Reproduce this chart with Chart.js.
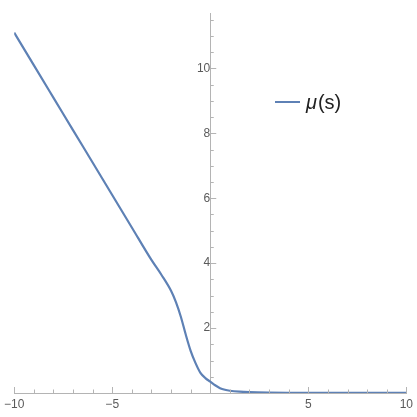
<!DOCTYPE html>
<html>
<head>
<meta charset="utf-8">
<script src="https://cdn.jsdelivr.net/npm/chart.js@4"></script>
<style>
  html, body { margin: 0; padding: 0; background: #fff; }
  #wrap { width: 417px; height: 417px; }
</style>
</head>
<body>
<div id="wrap"><canvas id="out"></canvas></div>
<script>
// values
const sValues = [-10, -9, -8, -7, -6, -5, -4, -3, -2.5, -2, -1.75, -1.5, -1.25, -1, -0.75, -0.5, -0.25, 0, 0.25, 0.5, 0.75, 1, 1.5, 2, 3, 4, 5, 6, 7, 8, 9, 10];
const muValues = [11.1, 10.1, 9.1, 8.1, 7.1, 6.1, 5.1, 4.1, 3.65, 3.15, 2.8, 2.35, 1.8, 1.3, 0.92, 0.62, 0.46, 0.35, 0.24, 0.15, 0.1, 0.07, 0.04, 0.025, 0.012, 0.007, 0.005, 0.004, 0.003, 0.003, 0.003, 0.003];
const xTickLabels = [-10, -5, 5, 10];
const yTickLabels = [2, 4, 6, 8, 10];
const seriesName = "μ(s)";

const axisGray = "#b4b4b4";
const labelGray = "#5a5a5a";
const lineBlue = "#5e81b5";

// minor ticks + legend drawn on top
const extras = {
  id: "extras",
  afterDraw(chart) {
    const ctx = chart.ctx;
    const xs = chart.scales.x, ys = chart.scales.y;
    const x0 = xs.getPixelForValue(0), y0 = ys.getPixelForValue(0);
    ctx.save();
    ctx.strokeStyle = axisGray;
    ctx.lineWidth = 1;
    for (let v = -10; v <= 10; v += 1) {
      if (v === 0) continue;
      const major = v % 5 === 0;
      const px = Math.round(xs.getPixelForValue(v)) + 0.5;
      ctx.beginPath();
      ctx.moveTo(px, y0);
      ctx.lineTo(px, y0 - (major ? 6 : 3.5));
      ctx.stroke();
    }
    for (let v = 0.5; v <= 11.5; v += 0.5) {
      const major = v % 2 === 0;
      const py = Math.round(ys.getPixelForValue(v)) + 0.5;
      ctx.beginPath();
      ctx.moveTo(x0, py);
      ctx.lineTo(x0 + (major ? 6 : 3.5), py);
      ctx.stroke();
    }
    // legend
    ctx.strokeStyle = lineBlue;
    ctx.lineWidth = 2;
    ctx.beginPath();
    ctx.moveTo(275, 102);
    ctx.lineTo(300, 102);
    ctx.stroke();
    ctx.fillStyle = "#222";
    ctx.textBaseline = "middle";
    ctx.font = "italic 20px 'Liberation Sans', Arial, sans-serif";
    ctx.fillText("μ", 306, 103);
    const w = ctx.measureText("μ").width;
    ctx.font = "20px 'Liberation Sans', Arial, sans-serif";
    ctx.fillText("(s)", 306 + w + 1, 103);
    ctx.restore();
  }
};

new Chart(document.getElementById("out").getContext("2d"), {
  type: "line",
  data: {
    labels: sValues,
    datasets: [{
      label: seriesName,
      data: sValues.map((s, i) => ({ x: s, y: muValues[i] })),
      borderColor: lineBlue,
      borderWidth: 2.2,
      pointRadius: 0,
      tension: 0.4,
      cubicInterpolationMode: "monotone",
      fill: false
    }]
  },
  options: {
    responsive: true,
    maintainAspectRatio: false,
    animation: false,
    layout: { padding: { left: 10, right: 7, top: 0, bottom: 24 } },
    plugins: { legend: { display: false }, tooltip: { enabled: false } },
    scales: {
      x: {
        type: "linear",
        min: -10, max: 10,
        position: { y: 0 },
        afterBuildTicks: s => { s.ticks = xTickLabels.map(v => ({ value: v })); },
        ticks: { color: labelGray, font: { size: 12 }, padding: 4, autoSkip: false, maxRotation: 0,
          callback: v => v < 0 ? "\u2212" + Math.abs(v) : String(v) },
        grid: { display: false, drawTicks: false },
        border: { color: axisGray, width: 1 }
      },
      y: {
        type: "linear",
        min: 0, max: 11.7,
        position: { x: 0 },
        afterBuildTicks: s => { s.ticks = yTickLabels.map(v => ({ value: v })); },
        ticks: { color: labelGray, font: { size: 12 }, padding: 6 },
        grid: { display: false, drawTicks: false },
        border: { color: axisGray, width: 1 }
      }
    }
  },
  plugins: [extras]
});
</script>
</body>
</html>
